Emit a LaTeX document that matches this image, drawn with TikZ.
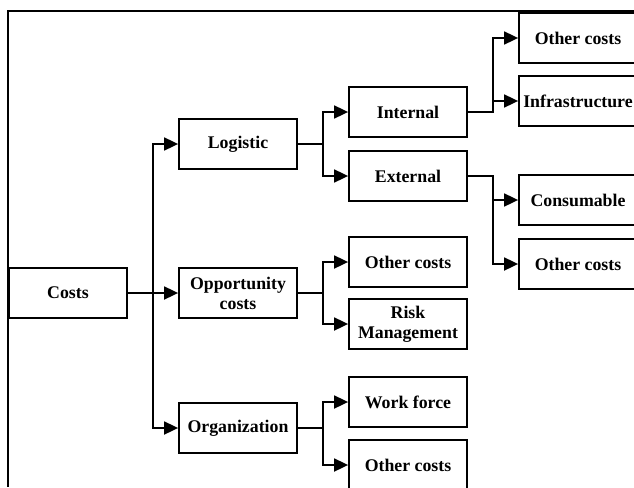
\documentclass[tikz,border=0pt]{standalone}
\usepackage{fontspec}
\setmainfont{Liberation Serif}
\usepackage{tikz}
\usetikzlibrary{calc, arrows.meta}

\begin{document}
\begin{tikzpicture}
  [
    x = 1pt, y = -1pt,
    every node/.style = {draw, line width = 1.8pt, minimum width = 118pt,
      minimum height = 50pt, inner sep = 1pt, align = center,
      font = \fontsize{17.8}{20}\selectfont\bfseries},
    link/.style = {line width = 1.8pt, -{Triangle[length = 14pt, width = 13pt]}}
  ]
  \useasboundingbox (0,0) rectangle (634,487);
  \clip (0,0) rectangle (634,487);
  \draw[line width = 2.5pt] (634,11) -- (8,11) -- (8,487);
  % root and first level
  \node (Costs)    at (68,293)  {Costs};
  \node (Logistic) at (238,144) {Logistic};
  \node (Opport)   at (238,293) {Opportunity\\costs};
  \node (Organiz)  at (238,428) {Organization};
  % second level
  \node (Internal) at (408,112) {Internal};
  \node (External) at (408,176) {External};
  \node (OppOther) at (408,262) {Other costs};
  \node (Risk)     at (408,324) {Risk\\Management};
  \node (Work)     at (408,402) {Work force};
  \node (OrgOther) at (408,465) {Other costs};
  % third level
  \node (IntOther) at (578,38)  {Other costs};
  \node (Infra)    at (578,101) {Infrastructure};
  \node (Consum)   at (578,200) {Consumable};
  \node (ExtOther) at (578,264) {Other costs};
  % connectors
  \foreach \a/\b in {Costs/Logistic, Costs/Opport, Costs/Organiz,
                     Logistic/Internal, Logistic/External,
                     Opport/OppOther, Opport/Risk,
                     Organiz/Work, Organiz/OrgOther,
                     Internal/IntOther, Internal/Infra,
                     External/Consum, External/ExtOther}
    \draw[link] (\a.east) -| ($(\a.east)!.5!(\b.west)$) |- (\b.west);
\end{tikzpicture}
\end{document}
